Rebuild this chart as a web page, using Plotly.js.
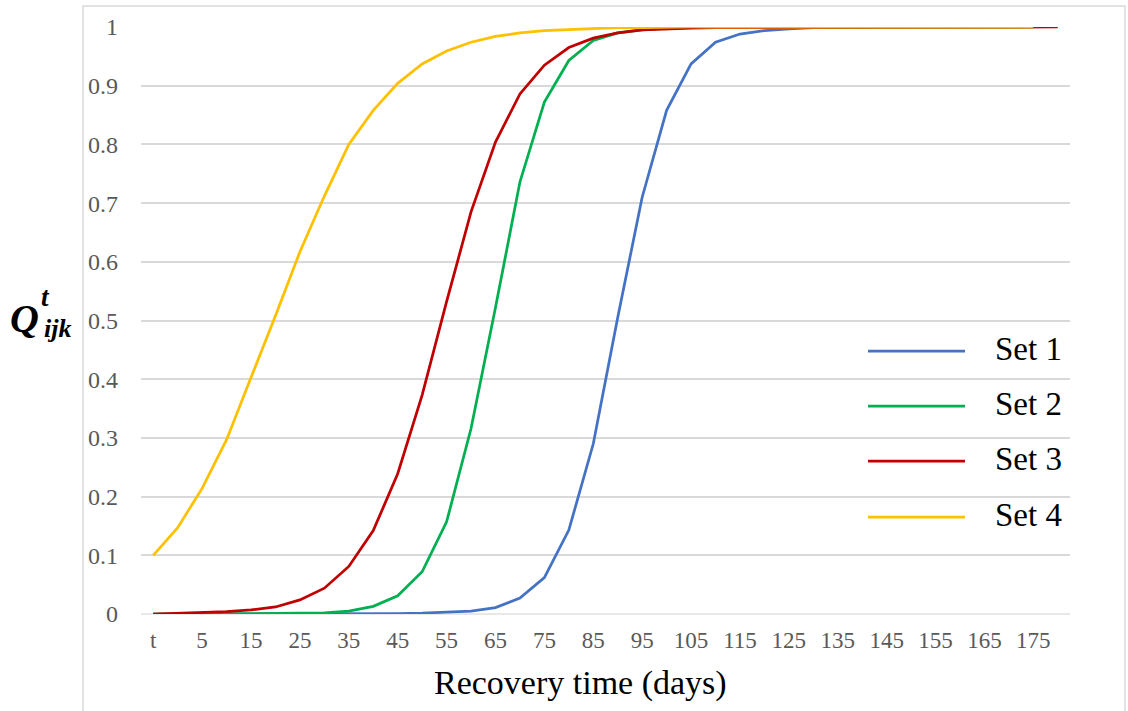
<!DOCTYPE html>
<html>
<head>
<meta charset="utf-8">
<script src="https://cdn.plot.ly/plotly-3.0.1.min.js"></script>
<style>
  html, body { margin: 0; padding: 0; background: #ffffff; }
  #chart { width: 1128px; height: 711px; }
</style>
</head>
<body>
<div id="chart"></div>
<script>
// Recovery time categories: a starting point "t", then every 5 days up to 180
const categories = ["t", "0", "5", "10", "15", "20", "25", "30", "35", "40", "45",
  "50", "55", "60", "65", "70", "75", "80", "85", "90", "95", "100", "105", "110",
  "115", "120", "125", "130", "135", "140", "145", "150", "155", "160", "165",
  "170", "175", "180"];

// Every other category carries a tick label
const tickLabels = ["t", "5", "15", "25", "35", "45", "55", "65", "75", "85", "95",
  "105", "115", "125", "135", "145", "155", "165", "175"];

const seriesNames = ["Set 1", "Set 2", "Set 3", "Set 4"];
const seriesColors = ["#4472C4", "#00B050", "#C00000", "#FFC000"];

const set1 = [0, 0, 0, 0, 0, 0, 0, 0, 0.0002, 0.0004, 0.0008, 0.0015, 0.003, 0.005,
  0.011, 0.027, 0.062, 0.143, 0.290, 0.505, 0.710, 0.858, 0.937, 0.974, 0.988,
  0.994, 0.997, 0.999, 0.999, 1, 1, 1, 1, 1, 1, 1, 1];

const set2 = [0, 0, 0, 0.0003, 0.0005, 0.001, 0.0015, 0.002, 0.005, 0.013, 0.031,
  0.072, 0.157, 0.316, 0.522, 0.736, 0.872, 0.943, 0.977, 0.990, 0.995, 0.998,
  0.999, 0.999, 1, 1, 1, 1, 1, 1, 1, 1, 1, 1, 1, 1, 1];

const set3 = [0, 0.001, 0.002, 0.004, 0.007, 0.012, 0.024, 0.044, 0.081, 0.142,
  0.239, 0.373, 0.532, 0.685, 0.804, 0.886, 0.935, 0.965, 0.981, 0.990, 0.995,
  0.997, 0.998, 0.999, 0.999, 1, 1, 1, 1, 1, 1, 1, 1, 1, 1, 1, 1, 1];

const set4 = [0.100, 0.147, 0.214, 0.297, 0.403, 0.508, 0.617, 0.712, 0.800, 0.858,
  0.904, 0.937, 0.959, 0.974, 0.984, 0.990, 0.994, 0.996, 0.998, 0.999, 0.999,
  1, 1, 1, 1, 1, 1, 1, 1, 1, 1, 1, 1, 1, 1, 1, 1];

const seriesValues = [set1, set2, set3, set4];

const xTitle = "Recovery time (days)";

// Page geometry (pixels) used to place the frame, legend and axis labels
const W = 1128, H = 711;
const M = { l: 141, r: 58, t: 27, b: 97 };
const plotW = W - M.l - M.r;
const plotH = H - M.t - M.b;
const px = x => (x - M.l) / plotW;
const py = y => (H - M.b - y) / plotH;

const serif = "'Liberation Serif', 'Times New Roman', serif";

const traces = seriesValues.map((vals, k) => ({
  type: "scatter",
  mode: "lines",
  name: seriesNames[k],
  x: categories.slice(0, vals.length),
  y: vals,
  line: { color: seriesColors[k], width: 2.75 },
  showlegend: false,
  hoverinfo: "x+y+name"
}));

const shapes = [
  // light chart frame
  {
    type: "rect", xref: "paper", yref: "paper",
    x0: px(83), x1: px(1125), y0: py(730), y1: py(6),
    line: { color: "#d9d9d9", width: 1.5 }, fillcolor: "rgba(0,0,0,0)", layer: "below"
  }
];

const annotations = [];
const legendRows = [351, 406, 461, 517];
seriesNames.forEach((name, k) => {
  shapes.push({
    type: "line", xref: "paper", yref: "paper",
    x0: px(868), x1: px(965), y0: py(legendRows[k]), y1: py(legendRows[k]),
    line: { color: seriesColors[k], width: 2.75 }
  });
  annotations.push({
    xref: "paper", yref: "paper", x: px(993), y: py(legendRows[k] - 2),
    xanchor: "left", yanchor: "middle", showarrow: false,
    text: name, font: { family: serif, size: 33, color: "#000000" }
  });
});

// Horizontal axis title
annotations.push({
  xref: "paper", yref: "paper", x: px(580), y: py(683),
  xanchor: "center", yanchor: "middle", showarrow: false,
  text: xTitle, font: { family: serif, size: 34, color: "#000000" }
});

// Axis symbol Q with superscript t and subscript ijk
annotations.push(
  {
    xref: "paper", yref: "paper", x: px(8), y: py(318),
    xanchor: "left", yanchor: "middle", showarrow: false,
    text: "<b><i>Q</i></b>", font: { family: serif, size: 40, color: "#000000" }
  },
  {
    xref: "paper", yref: "paper", x: px(39), y: py(297),
    xanchor: "left", yanchor: "middle", showarrow: false,
    text: "<b><i>t</i></b>", font: { family: serif, size: 27, color: "#000000" }
  },
  {
    xref: "paper", yref: "paper", x: px(42), y: py(328),
    xanchor: "left", yanchor: "middle", showarrow: false,
    text: "<b><i>ijk</i></b>", font: { family: serif, size: 26, color: "#000000" }
  }
);

const layout = {
  width: W, height: H,
  margin: M,
  paper_bgcolor: "#ffffff",
  plot_bgcolor: "#ffffff",
  font: { family: serif, color: "#595959" },
  xaxis: {
    type: "category",
    categoryorder: "array",
    categoryarray: categories,
    range: [-0.5, categories.length - 0.5],
    tickvals: tickLabels,
    ticktext: tickLabels,
    showgrid: false,
    zeroline: false,
    showline: false,
    ticks: "",
    ticklabelstandoff: 10,
    tickfont: { family: serif, size: 23, color: "#595959" }
  },
  yaxis: {
    range: [0, 1],
    dtick: 0.1,
    tick0: 0,
    showgrid: true,
    gridcolor: "#d9d9d9",
    gridwidth: 2,
    zeroline: true,
    zerolinecolor: "#e8e8e8",
    zerolinewidth: 1.5,
    showline: false,
    ticks: "",
    ticklabelstandoff: 22,
    tickfont: { family: serif, size: 24, color: "#595959" }
  },
  shapes: shapes,
  annotations: annotations,
  showlegend: false
};

Plotly.newPlot("chart", traces, layout, { displayModeBar: false, staticPlot: true });
</script>
</body>
</html>
